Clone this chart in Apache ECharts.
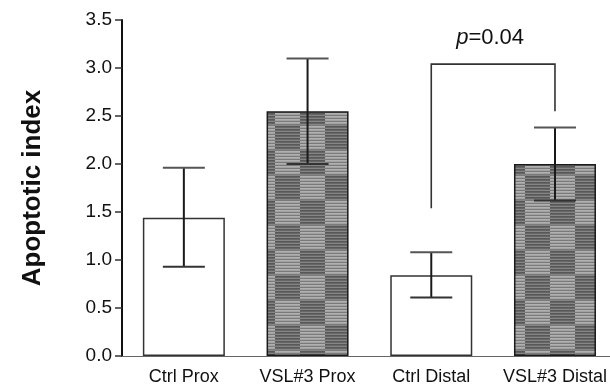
<!DOCTYPE html>
<html><head><meta charset="utf-8">
<script src="https://cdn.jsdelivr.net/npm/echarts@6/dist/echarts.min.js"></script>
<style>html,body{margin:0;padding:0;background:#fff}#c{width:610px;height:388px}</style>
</head><body><div id="c"></div>
<script>
var categories = ['Ctrl Prox', 'VSL#3 Prox', 'Ctrl Distal', 'VSL#3 Distal'];
var means = [1.44, 2.55, 0.84, 2.00];
var errLow = [0.93, 2.00, 0.61, 1.62];
var errHigh = [1.96, 3.10, 1.08, 2.38];
var patterned = [false, true, false, true];
var yTicks = [0, 0.5, 1.0, 1.5, 2.0, 2.5, 3.0, 3.5];
// significance bracket
var bracketFrom = [2, 1.54];
var bracketTo = [3, 2.55];
var bracketTop = 3.04;
var pLabel = 'p=0.04';
var pLabelY = 3.31;

// layout
var gridLeft = 122, plotWidth = 488, bandPx = 123.75;
var xMin = -0.5, xMax = xMin + plotWidth / bandPx;

function makePattern() {
  var c = document.createElement('canvas');
  c.width = 50; c.height = 50;
  var g = c.getContext('2d');
  for (var cy = 0; cy < 2; cy++) for (var cx = 0; cx < 2; cx++) {
    var dark = (cx + cy) % 2 === 0;
    for (var y = 0; y < 25; y++) {
      var alt = y % 3;
      var col;
      if (dark) col = alt === 0 ? '#858585' : (alt === 1 ? '#585858' : '#666666');
      else col = alt === 0 ? '#7a7a7a' : (alt === 1 ? '#b0b0b0' : '#a2a2a2');
      g.fillStyle = col;
      g.fillRect(cx * 25, cy * 25 + y, 25, 1);
    }
  }
  return c;
}
var pat = { image: makePattern(), repeat: 'repeat' };

var barData = means.map(function (v, i) {
  return {
    value: [i, v],
    itemStyle: patterned[i]
      ? { color: pat, borderColor: '#1a1a1a', borderWidth: 1.5 }
      : { color: '#ffffff', borderColor: '#333', borderWidth: 1.5 }
  };
});
var errData = categories.map(function (c, i) { return [i, errLow[i], errHigh[i]]; });

var chart = echarts.init(document.getElementById('c'));
chart.setOption({
  animation: false,
  grid: { left: gridLeft, right: 610 - gridLeft - plotWidth, top: 20, bottom: 32 },
  xAxis: {
    type: 'value', min: xMin, max: xMax, interval: 0.5,
    axisLine: { onZero: false, lineStyle: { color: '#666', width: 1 } },
    axisTick: { show: false },
    splitLine: { show: false },
    axisLabel: { showMinLabel: true, showMaxLabel: false, color: '#111', fontSize: 18, fontFamily: 'Liberation Sans', margin: 12,
      formatter: function (v) {
        var k = Math.round(v);
        return (Math.abs(v - k) < 1e-6 && categories[k] !== undefined) ? categories[k] : '';
      } }
  },
  yAxis: {
    type: 'value', min: yTicks[0], max: yTicks[yTicks.length - 1], interval: 0.5,
    name: 'Apoptotic index', nameLocation: 'middle', nameGap: 76,
    nameTextStyle: { fontSize: 26, fontWeight: 'bold', color: '#111', fontFamily: 'Liberation Sans' },
    axisLine: { show: true, onZero: false, lineStyle: { color: '#111', width: 2 } },
    axisTick: { show: true, length: 7, lineStyle: { color: '#333', width: 1.5 } },
    splitLine: { show: false },
    axisLabel: { color: '#111', fontSize: 19, fontFamily: 'Liberation Sans', margin: 10,
      formatter: function (v) { return v.toFixed(1); } }
  },
  series: [
    { type: 'bar', data: barData, barWidth: 82 },
    {
      type: 'custom', data: errData, z: 5,
      renderItem: function (params, api) {
        var x = api.value(0);
        var lo = api.coord([x, api.value(1)]);
        var hi = api.coord([x, api.value(2)]);
        var hw = 21;
        return { type: 'group', children: [
          { type: 'line', shape: { x1: lo[0], y1: lo[1], x2: hi[0], y2: hi[1] }, style: { stroke: '#1a1a1a', lineWidth: 2 } },
          { type: 'line', shape: { x1: hi[0] - hw, y1: hi[1], x2: hi[0] + hw, y2: hi[1] }, style: { stroke: '#555', lineWidth: 2 } },
          { type: 'line', shape: { x1: lo[0] - hw, y1: lo[1], x2: lo[0] + hw, y2: lo[1] }, style: { stroke: '#333', lineWidth: 2 } }
        ]};
      }
    },
    {
      type: 'custom', data: [[bracketFrom[0], bracketFrom[1], bracketTo[0], bracketTo[1], bracketTop]], z: 6,
      renderItem: function (params, api) {
        var a = api.coord([api.value(0), api.value(1)]);
        var at = api.coord([api.value(0), api.value(4)]);
        var b = api.coord([api.value(2), api.value(3)]);
        var bt = api.coord([api.value(2), api.value(4)]);
        var ty = api.coord([api.value(0), pLabelY])[1];
        return { type: 'group', children: [
          { type: 'polyline', shape: { points: [a, at, bt, b] }, style: { stroke: '#333', lineWidth: 1.6, fill: null } },
          { type: 'text', x: (at[0] + bt[0]) / 2 - 3, y: ty, style: {
            text: '{i|p}{n|' + pLabel.slice(1) + '}', align: 'center', verticalAlign: 'middle',
            rich: { i: { fontStyle: 'italic', fontSize: 22, fontFamily: 'Liberation Sans', fill: '#111' },
                    n: { fontSize: 22, fontFamily: 'Liberation Sans', fill: '#111' } } } }
        ]};
      }
    }
  ]
});
</script></body></html>
